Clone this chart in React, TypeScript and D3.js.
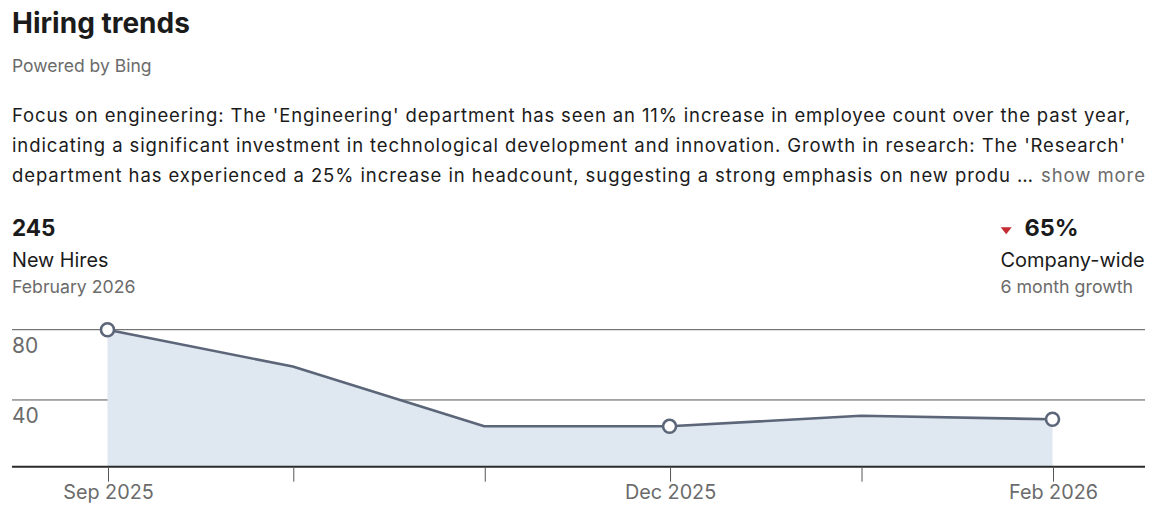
import React from "react";
import * as d3 from "d3";

const monthDates = ["2025-09-01", "2025-10-01", "2025-11-01", "2025-12-01", "2026-01-01", "2026-02-01"];
const newHires = [80, 59, 25, 25, 31, 29];
const yTicks = [40, 80];
const markedIdx = [0, 3, 5];
const labeledIdx = [0, 3, 5];

const title = "Hiring trends";
const subtitle = "Powered by Bing";
const paraLines = [
  "Focus on engineering: The 'Engineering' department has seen an 11% increase in employee count over the past year,",
  "indicating a significant investment in technological development and innovation. Growth in research: The 'Research'",
  "department has experienced a 25% increase in headcount, suggesting a strong emphasis on new produ",
];
const paraWidths = [1118, 1113, 998];
const kpiLeft = { value: "245", label: "New Hires", sub: "February 2026" };
const kpiRight = { value: "65%", label: "Company-wide", sub: "6 month growth" };

const FONT = "Inter, 'Liberation Sans', sans-serif";
const DARK = "#1b1b1b";
const GRAY = "#6b6b6b";

export default function App() {
  const W = 1172, H = 524;
  const left = 12, right = 1145;
  const top = 329.7, bottom = 466.7;
  const dates = monthDates.map((d) => new Date(d + "T00:00:00Z"));
  const x = d3.scaleUtc().domain([dates[0], dates[dates.length - 1]]).range([107.5, 1052.5]);
  const y = d3.scaleLinear().domain([2, 80]).range([bottom, top]);
  const pts = dates.map((d, i) => ({ d, v: newHires[i] }));
  const area = d3.area<any>().x((p) => x(p.d)).y0(bottom).y1((p) => y(p.v));
  const line = d3.line<any>().x((p) => x(p.d)).y((p) => y(p.v));
  const fmt = d3.utcFormat("%b %Y");

  return (
    <svg width={W} height={H} style={{ position: "absolute", left: 0, top: 0 }} fontFamily={FONT}>
      <rect width={W} height={H} fill="#fff" />
      <text x={12} y={33} fontSize={28} fontWeight={700} fill={DARK}>{title}</text>
      <text x={12} y={71.5} fontSize={17.5} fill={GRAY}>{subtitle}</text>
      {paraLines.map((t, i) => (
        <text key={i} x={12} y={121.5 + i * 30.4} fontSize={18.5} fill={DARK}
          textLength={paraWidths[i]} lengthAdjust="spacing">
          {t}
        </text>
      ))}
      <text x={1017} y={182.3} fontSize={18.5} fill={DARK}>…</text>
      <text x={1145} y={182.3} fontSize={18.5} fill={GRAY} textAnchor="end" textLength={104} lengthAdjust="spacing">show more</text>

      <text x={12} y={235.7} fontSize={22.5} fontWeight={700} fill={DARK}>{kpiLeft.value}</text>
      <text x={12} y={266.7} fontSize={19.8} fill={DARK}>{kpiLeft.label}</text>
      <text x={12} y={292.7} fontSize={17.7} fill={GRAY}>{kpiLeft.sub}</text>

      <path d="M1000.7,227.3 L1011.7,227.3 L1006.2,234.3 Z" fill="#c42b33" />
      <text x={1024.5} y={235.7} fontSize={23.5} fontWeight={700} fill={DARK}>{kpiRight.value}</text>
      <text x={1000.5} y={266.7} fontSize={20} fill={DARK}>{kpiRight.label}</text>
      <text x={1000.5} y={292.7} fontSize={17.8} fill={GRAY}>{kpiRight.sub}</text>

      {yTicks.map((t) => (
        <line key={t} x1={left} x2={right} y1={y(t)} y2={y(t)} stroke="#555" strokeWidth={1} />
      ))}
      <path d={area(pts) || ""} fill="#dfe7f0" />
      {yTicks.map((t) => (
        <text key={t} x={12} y={y(t) + 23} fontSize={21} fill={GRAY}>{t}</text>
      ))}
      <line x1={left} x2={right} y1={bottom} y2={bottom} stroke="#2a2a2a" strokeWidth={2} />
      {dates.map((d, i) => (
        <g key={i}>
          <line x1={x(d) + 1} x2={x(d) + 1} y1={bottom} y2={481.7} stroke="#555" strokeWidth={1} />
          {labeledIdx.includes(i) ? (
            <text x={x(d) + 1} y={498.5} fontSize={19.8} fill={GRAY} textAnchor="middle">{fmt(d)}</text>
          ) : null}
        </g>
      ))}
      <path d={line(pts) || ""} fill="none" stroke="#5b6679" strokeWidth={2.6} strokeLinejoin="round" />
      {markedIdx.map((i) => (
        <circle key={i} cx={x(dates[i])} cy={y(newHires[i])} r={6.5} fill="#fff" stroke="#5b6679" strokeWidth={2.6} />
      ))}
    </svg>
  );
}
